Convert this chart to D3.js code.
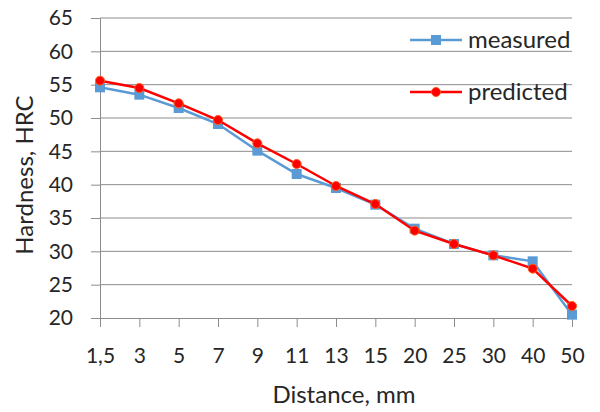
<!DOCTYPE html>
<html>
<head>
<meta charset="utf-8">
<script src="https://cdn.jsdelivr.net/npm/d3@7"></script>
<style>
  body { margin: 0; background: #fff; }
  text { font-family: Lato, "Open Sans", sans-serif; fill: #262626; }
</style>
</head>
<body>
<div id="chart"></div>
<script>
const categories = ["1,5", "3", "5", "7", "9", "11", "13", "15", "20", "25", "30", "40", "50"];
const measured  = [54.6, 53.5, 51.5, 49.1, 45.1, 41.6, 39.5, 37.0, 33.4, 31.1, 29.4, 28.5, 20.5];
const predicted = [55.6, 54.5, 52.2, 49.7, 46.2, 43.1, 39.8, 37.1, 33.1, 31.1, 29.4, 27.4, 21.8];
const yTicks = [20, 25, 30, 35, 40, 45, 50, 55, 60, 65];

const width = 600, height = 412;
const margin = {top: 18, right: 28, bottom: 94, left: 100};
const w = width - margin.left - margin.right;
const h = height - margin.top - margin.bottom;

const svg = d3.select("#chart").append("svg")
    .attr("width", width)
    .attr("height", height);

const g = svg.append("g")
    .attr("transform", `translate(${margin.left},${margin.top})`);

const x = d3.scalePoint().domain(categories).range([0, w]).padding(0);
const y = d3.scaleLinear().domain([20, 65]).range([h, 0]);

// horizontal gridlines
g.append("g")
    .selectAll("line")
    .data(yTicks.filter(d => d > 20))
    .join("line")
    .attr("x1", 0).attr("x2", w)
    .attr("y1", d => y(d)).attr("y2", d => y(d))
    .attr("stroke", "#8c8c8c")
    .attr("stroke-width", 1);

// y axis
const yAxis = g.append("g")
    .call(d3.axisLeft(y).tickValues(yTicks).tickSize(9).tickPadding(18));
yAxis.select(".domain").attr("stroke", "#8c8c8c");
yAxis.selectAll(".tick line").attr("stroke", "#8c8c8c");
yAxis.selectAll("text").attr("font-size", 21).style("fill", "#262626");

// x axis
const xAxis = g.append("g")
    .attr("transform", `translate(0,${h})`)
    .call(d3.axisBottom(x).tickSize(9).tickSizeOuter(0).tickPadding(21));
xAxis.select(".domain").attr("stroke", "#8c8c8c");
xAxis.selectAll(".tick line").attr("stroke", "#8c8c8c");
xAxis.selectAll("text").attr("font-size", 21).style("fill", "#262626");

// axis titles
svg.append("text")
    .attr("x", 344).attr("y", 403)
    .attr("text-anchor", "middle")
    .attr("font-size", 24)
    .text("Distance, mm");

svg.append("text")
    .attr("transform", "translate(33,175) rotate(-90)")
    .attr("text-anchor", "middle")
    .attr("font-size", 24)
    .text("Hardness, HRC");

const line = d3.line().x((d, i) => x(categories[i])).y(d => y(d));

// measured
g.append("path")
    .datum(measured)
    .attr("d", line)
    .attr("fill", "none")
    .attr("stroke", "#5b9bd5")
    .attr("stroke-width", 2.5);
g.selectAll(".sq")
    .data(measured)
    .join("rect")
    .attr("class", "sq")
    .attr("x", (d, i) => x(categories[i]) - 5)
    .attr("y", d => y(d) - 5)
    .attr("width", 10).attr("height", 10)
    .attr("fill", "#5b9bd5");

// predicted
g.append("path")
    .datum(predicted)
    .attr("d", line)
    .attr("fill", "none")
    .attr("stroke", "#ff0000")
    .attr("stroke-width", 2.5);
g.selectAll(".dot")
    .data(predicted)
    .join("circle")
    .attr("class", "dot")
    .attr("cx", (d, i) => x(categories[i]))
    .attr("cy", d => y(d))
    .attr("r", 4.5)
    .attr("fill", "#ff0000")
    .attr("stroke", "#ff5a1a")
    .attr("stroke-width", 1);

// legend
const legend = svg.append("g");
const items = [
    {name: "measured", color: "#5b9bd5", shape: "rect", y: 40},
    {name: "predicted", color: "#ff0000", shape: "circle", y: 92}
];
items.forEach(it => {
    legend.append("line")
        .attr("x1", 410).attr("x2", 462)
        .attr("y1", it.y).attr("y2", it.y)
        .attr("stroke", it.color)
        .attr("stroke-width", 2.5);
    if (it.shape === "rect") {
        legend.append("rect")
            .attr("x", 431).attr("y", it.y - 5)
            .attr("width", 10).attr("height", 10)
            .attr("fill", it.color);
    } else {
        legend.append("circle")
            .attr("cx", 436).attr("cy", it.y).attr("r", 4.5)
            .attr("fill", it.color)
            .attr("stroke", "#ff5a1a");
    }
    legend.append("text")
        .attr("x", 468).attr("y", it.y)
        .attr("dy", "0.35em")
        .attr("font-size", 24)
        .text(it.name);
});
</script>
</body>
</html>
